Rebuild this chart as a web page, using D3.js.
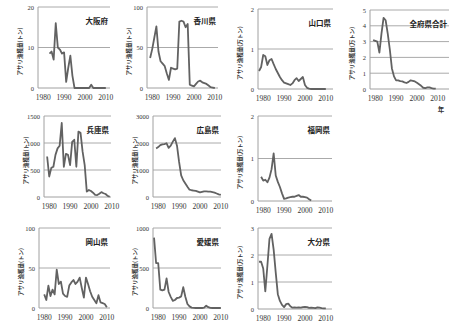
<!DOCTYPE html>
<html>
<head>
<meta charset="utf-8">
<script src="https://cdn.jsdelivr.net/npm/d3@7"></script>
<style>
  body { margin: 0; background: #fff; }
  svg { display: block; }
</style>
</head>
<body>
<svg id="chart" width="449" height="328"></svg>
<script>
// prefectures, in drawing order
const titles = ['大阪府', '香川県', '山口県', '全府県合計', '兵庫県', '広島県', '福岡県', '岡山県', '愛媛県', '大分県'];
const units = ['トン', 'トン', '万トン', '万トン', 'トン', 'トン', '万トン', 'トン', 'トン', '万トン'];
const yTicks = [
  [0, 10, 20], [0, 50, 100], [0, 1, 2], [0, 1, 2, 3, 4, 5],
  [0, 500, 1000, 1500], [0, 1000, 2000, 3000], [0, 1, 2],
  [0, 50, 100], [0, 500, 1000], [0, 1, 2, 3]
];
const xTicks = [1980, 1990, 2000, 2010];
const startYears = [1983, 1979, 1978, 1979, 1979, 1979, 1979, 1980, 1978, 1978];

const osaka = [8.5, 9, 7, 16, 10, 9.5, 8.5, 8.8, 1.5, 5, 8, 3, 0,
  0, 0, 0, 0, 0, 0, 0, 0.8, 0, 0, 0, 0, 0, 0, 0];
const kagawa = [37, 48, 62, 76, 45, 33, 30, 27, 18, 10, 25, 24, 23, 24, 82, 83,
  82, 75, 79, 4, 3, 2, 5, 8, 9, 7, 6, 5, 3, 1, 0.5, 0];
const yamaguchi = [0.45, 0.55, 0.85, 0.82, 0.6, 0.72, 0.75, 0.62, 0.5, 0.4, 0.3,
  0.22, 0.16, 0.14, 0.12, 0.1, 0.14, 0.22, 0.27, 0.2, 0.25, 0.3, 0.1, 0.03, 0.01,
  0, 0, 0, 0, 0, 0, 0, 0];
const total = [3.1, 3.05, 3.0, 2.3, 3.5, 4.5, 4.35, 3.5, 2.5, 1.3, 0.8, 0.55, 0.55,
  0.5, 0.48, 0.42, 0.38, 0.45, 0.55, 0.52, 0.48, 0.4, 0.3, 0.2, 0.08, 0.06, 0.1,
  0.1, 0.06, 0.03, 0.02];
const hyogo = [750, 380, 540, 560, 780, 900, 950, 1370, 560, 800, 780, 590, 1020,
  1060, 560, 1210, 1190, 840, 590, 100, 130, 110, 80, 40, 35, 60, 90, 70, 55, 20, 5];
const hiroshima = [1800, 1850, 1920, 1950, 1960, 1990, 1820, 1900, 2050, 2180, 1900,
  1300, 800, 620, 500, 380, 270, 250, 240, 230, 200, 170, 190, 210, 210, 200, 200,
  180, 160, 130, 100, 75];
const fukuoka = [0.57, 0.48, 0.5, 0.44, 0.55, 0.75, 1.12, 0.6, 0.45, 0.33, 0.18,
  0.05, 0.06, 0.08, 0.09, 0.1, 0.1, 0.12, 0.14, 0.1, 0.1, 0.09, 0.08, 0.04, 0.01];
const okayama = [17, 10, 28, 15, 23, 17, 48, 30, 33, 18, 15, 14, 28, 32, 35, 30, 33,
  38, 25, 13, 38, 30, 21, 14, 10, 6, 16, 7, 6, 5, 1];
const ehime = [880, 560, 560, 230, 220, 230, 370, 200, 140, 90, 100, 125, 130, 145,
  260, 140, 50, 20, 5, 2, 0, 0, 0, 0, 5, 30, 10, 2, 0, 0, 0, 0, 0];
const oita = [1.75, 1.75, 1.5, 0.65, 1.6, 2.6, 2.78, 2.2, 1.35, 0.55, 0.3, 0.15,
  0.07, 0.18, 0.2, 0.1, 0.05, 0.06, 0.05, 0.06, 0.05, 0.07, 0.08, 0.07, 0.04, 0.05,
  0.04, 0.03, 0.06, 0.05, 0.03, 0.02, 0.02];

const series = [osaka, kagawa, yamaguchi, total, hyogo, hiroshima, fukuoka, okayama, ehime, oita];

// panel boxes: left axis x, plot top (max tick), zero line y, gridline right end
const layout = [
  { x: 38, top: 7, bottom: 88, right: 110 },
  { x: 147, top: 7, bottom: 88, right: 218 },
  { x: 258, top: 9, bottom: 89, right: 333 },
  { x: 370, top: 10, bottom: 89, right: 449 },
  { x: 44, top: 116, bottom: 197, right: 111 },
  { x: 153, top: 116, bottom: 197, right: 221 },
  { x: 258, top: 116, bottom: 201, right: 332 },
  { x: 39, top: 228, bottom: 308, right: 110 },
  { x: 153, top: 228, bottom: 308, right: 221 },
  { x: 258, top: 228, bottom: 309, right: 332 }
];

const svg = d3.select('#chart');
const gridColor = '#a0a0a0';
const lineColor = '#626262';

titles.forEach((title, i) => {
  const box = layout[i];
  const ticks = yTicks[i];
  const g = svg.append('g');

  const x = d3.scaleLinear().domain([1977.5, 2012]).range([box.x, box.x + 72]);
  const y = d3.scaleLinear().domain([0, d3.max(ticks)]).range([box.bottom, box.top]);

  // horizontal gridlines
  g.selectAll('.grid')
    .data(ticks.filter(t => t > 0))
    .join('line')
    .attr('x1', box.x)
    .attr('x2', box.right)
    .attr('y1', d => y(d))
    .attr('y2', d => y(d))
    .attr('stroke', gridColor)
    .attr('stroke-width', 0.9);

  // axes
  g.append('line')
    .attr('x1', box.x).attr('x2', box.x)
    .attr('y1', box.top).attr('y2', box.bottom)
    .attr('stroke', gridColor).attr('stroke-width', 1);
  g.append('line')
    .attr('x1', box.x).attr('x2', box.right)
    .attr('y1', box.bottom).attr('y2', box.bottom)
    .attr('stroke', gridColor).attr('stroke-width', 1);

  // y tick labels
  g.selectAll('.ytick')
    .data(ticks)
    .join('text')
    .attr('x', box.x - 4)
    .attr('y', d => y(d) + 2.5)
    .attr('text-anchor', 'end')
    .attr('font-family', 'Liberation Serif, serif')
    .attr('font-size', 6.5)
    .attr('fill', '#333')
    .text(d => d);

  // x tick labels
  g.selectAll('.xtick')
    .data(xTicks)
    .join('text')
    .attr('x', d => x(d))
    .attr('y', box.bottom + 12)
    .attr('text-anchor', 'middle')
    .attr('font-family', 'Liberation Serif, serif')
    .attr('font-size', 7.5)
    .attr('fill', '#333')
    .text(d => d);

  // y axis title
  const midY = (box.top + box.bottom) / 2 + 4;
  g.append('text')
    .attr('transform', `translate(${box.x - 16},${midY}) rotate(-90)`)
    .attr('text-anchor', 'middle')
    .attr('font-family', 'Noto Sans CJK JP, sans-serif')
    .attr('font-weight', 'bold')
    .attr('font-size', 5.5)
    .attr('fill', '#333')
    .text(`アサリ漁獲量(${units[i]})`);

  // panel title
  g.append('text')
    .attr('x', box.right - 2)
    .attr('y', box.top + 17)
    .attr('text-anchor', 'end')
    .attr('font-family', 'Noto Sans CJK JP, sans-serif')
    .attr('font-weight', 'bold')
    .attr('font-size', 7.5)
    .attr('fill', '#222')
    .text(title);

  // data line
  const pts = series[i].map((v, k) => [startYears[i] + k, v]);
  g.append('path')
    .datum(pts)
    .attr('fill', 'none')
    .attr('stroke', lineColor)
    .attr('stroke-width', 1.8)
    .attr('stroke-linejoin', 'round')
    .attr('d', d3.line().x(d => x(d[0])).y(d => y(d[1])));

  if (i === 3) {
    svg.append('text')
      .attr('x', 441)
      .attr('y', 112)
      .attr('text-anchor', 'middle')
      .attr('font-family', 'Noto Sans CJK JP, sans-serif')
      .attr('font-weight', 'bold')
      .attr('font-size', 6.5)
      .attr('fill', '#333')
      .text('年');
  }
});
</script>
</body>
</html>
